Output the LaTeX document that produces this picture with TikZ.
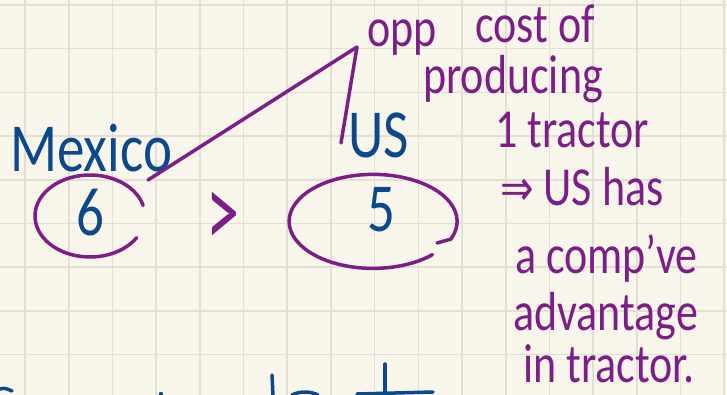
\documentclass[tikz,border=0pt]{standalone}
\usepackage{fontspec}
\usepackage{graphicx}
\setmainfont{Carlito}
\newfontfamily\arrowfont{DejaVu Sans}
\usetikzlibrary{positioning}
\definecolor{NoteBlue}{RGB}{12,72,140}
\definecolor{NotePurple}{RGB}{124,30,136}
\definecolor{PaperBg}{RGB}{248,246,234}
\definecolor{GridLn}{RGB}{226,224,210}
\newcommand{\tallhand}[1]{\scalebox{1}[1.25]{#1}}

\tikzset{
  blueink/.style={text=NoteBlue, inner sep=0pt, font=\fontsize{55}{55}\selectfont},
  purpink/.style={text=NotePurple, inner sep=0pt, font=\fontsize{44}{44}\selectfont},
  pen/.style={draw=NotePurple, line width=3.5pt, line cap=round, line join=round},
  bluepen/.style={draw=NoteBlue, line width=3.5pt, line cap=round, line join=round},
}

\begin{document}
\begin{tikzpicture}[x=1pt,y=-1pt]
  % paper
  \fill[PaperBg] (0,0) rectangle (727,395);
  \useasboundingbox (0,0) rectangle (727,395);
  \foreach \k in {0,...,16}
    \draw[GridLn, line width=1.6pt] (25+43.7*\k,0) -- (25+43.7*\k,395);
  \foreach \k in {0,...,8}
    \draw[GridLn, line width=1.6pt] (0,5+43.7*\k) -- (727,5+43.7*\k);

  % countries and numbers
  \node[blueink, anchor=base west] (mexico) at (10,172) {\tallhand{Mexico}};
  \node[blueink, anchor=base west] (us) at (348,158) {\tallhand{US}};
  \node[blueink] (six) at (90,213) {\tallhand{6}};
  \node[blueink] (five) at (381,210) {\tallhand{5}};
  \node[purpink] (gt) at (223,220) {\scalebox{1.5}[2.4]{>}};

  % rings
  \draw[pen] (90,216) ++(-15:55 and 41) arc[start angle=-15, end angle=-328, x radius=55, y radius=41];
  \draw[pen] (437,243) -- (451,239) arc[start angle=22, end angle=-315, x radius=84, y radius=47];

  % pointer to the note
  \coordinate (ringtip) at (148,180);
  \coordinate (apex) at (357,47);
  \coordinate (usfoot) at (341,143);
  \draw[pen] (ringtip) -- (apex) -- (usfoot);

  % note
  \node[purpink, anchor=base west] (opp) at (367,47) {\tallhand{opp}};
  \node[purpink, anchor=base west] (costof) at (475,43) {\tallhand{cost of}};
  \node[purpink, anchor=base west] (producing) at (423,94) {\tallhand{producing}};
  \node[purpink, anchor=base west] (onetractor) at (495,148) {\tallhand{1 tractor}};
  \node[purpink, anchor=base west] (ushas) at (500,206)
    {\tallhand{{\arrowfont\fontsize{40}{40}\selectfont ⇒} US has}};
  \node[purpink, anchor=base west] (compve) at (515,273) {\tallhand{a comp've}};
  \node[purpink, anchor=base west] (advantage) at (513,330) {\tallhand{advantage}};
  \node[purpink, anchor=base west] (intractor) at (523,382) {\tallhand{in tractor.}};

  % next line, cut off
  \draw[bluepen] (0,389) .. controls (5,388) .. (12,391);
  \fill[NoteBlue] (161,394) circle (2.2pt);
  \draw[bluepen] (272,375) -- (273,396);
  \draw[bluepen] (292,395) .. controls (300,391) and (310,391) .. (318,395);
  \draw[bluepen] (385,364) -- (385,396);
  \draw[bluepen] (357,394) -- (433,392);
\end{tikzpicture}
\end{document}
